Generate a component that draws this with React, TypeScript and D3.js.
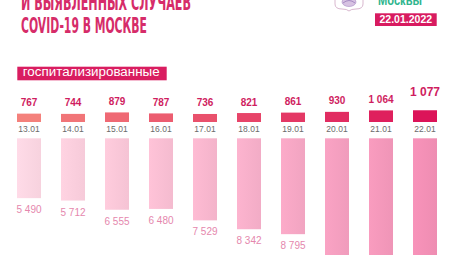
import React from "react";
import * as d3 from "d3";

const dates = ["13.01", "14.01", "15.01", "16.01", "17.01", "18.01", "19.01", "20.01", "21.01", "22.01"];
const hospitalized = [767, 744, 879, 787, 736, 821, 861, 930, 1064, 1077];
const identified = [5490, 5712, 6555, 6480, 7529, 8342, 8795, 11043, 13024, 15668];
const titleLines = ["И ВЫЯВЛЕННЫХ СЛУЧАЕВ", "COVID-19 В МОСКВЕ"];
const badgeLabel = "госпитализированные";
const dateBadge = "22.01.2022";
const brand = "Москвы";

const fmt = (v: number) => d3.format(",")(v).replace(/,/g, " ");

export default function App() {
  const W = 454, H = 255;
  const x = d3.scalePoint<string>().domain(dates).range([29, 425]);
  const h = d3.scaleLinear().domain([0, 10000]).range([0, 109]);
  const bw = 24;
  const hospBase = 122;
  const idTop = 138.3;
  const hospColor = d3.interpolateRgb("#f4817c", "#dc1459");
  const idColor = d3.interpolateRgb("#f7d2de", "#ee8db2");
  const n = dates.length;
  const sans = "'Liberation Sans', Arial, sans-serif";

  return (
    <svg width={W} height={H} style={{ position: "absolute", left: 0, top: 0, background: "#fff" }}>
      <defs>
        {dates.map((d, i) => {
          const c = idColor(i / (n - 1));
          return (
            <linearGradient key={d} id={`idg${i}`} x1="0" x2="1" y1="0" y2="0">
              <stop offset="0" stopColor={d3.color(c)!.brighter(0.12).formatHex()} />
              <stop offset="1" stopColor={c} />
            </linearGradient>
          );
        })}
      </defs>
      <rect width={W} height={H} fill="#fff" />

      {/* title */}
      <text x={21} y={10} fill="#d62c69" fontFamily="'DejaVu Sans Condensed', 'DejaVu Sans', sans-serif" fontWeight="bold" fontSize={20.5} textLength={170} lengthAdjust="spacingAndGlyphs">{titleLines[0]}</text>
      <text x={21} y={32.7} fill="#d62c69" fontFamily="'DejaVu Sans Condensed', 'DejaVu Sans', sans-serif" fontWeight="bold" fontSize={20.5} textLength={126} lengthAdjust="spacingAndGlyphs">{titleLines[1]}</text>

      {/* emblem */}
      <g>
        <path d="M335,-4 L363,-4 L363,4 Q363,9 356,9 Q351,9 349,11 Q347,9 342,9 Q335,9 335,4 Z" fill="#fff" stroke="#d9b8cf" strokeWidth={1} />
        <ellipse cx={349} cy={2} rx={7} ry={4.5} fill="#d7c2e2" stroke="#a98cc4" strokeWidth={0.6} />
        <path d="M343,3 Q349,-2 355,3" fill="none" stroke="#8f73b4" strokeWidth={0.7} />
      </g>
      <text x={378} y={4.5} fill="#2fb58d" fontFamily={sans} fontWeight="bold" fontSize={15} textLength={44} lengthAdjust="spacingAndGlyphs">{brand}</text>

      {/* date badge */}
      <rect x={375} y={13.3} width={61.7} height={12.7} fill="#d81b60" />
      <text x={405.8} y={23.3} textAnchor="middle" fill="#fff" fontFamily={sans} fontWeight="bold" fontSize={10.5}>{dateBadge}</text>

      {/* series badge */}
      <rect x={17.3} y={66.7} width={149.4} height={13.6} fill="#d91d60" />
      <text x={22.7} y={75.9} fill="#fff" fontFamily={sans} fontSize={12.5} textLength={137} lengthAdjust="spacingAndGlyphs">{badgeLabel}</text>

      {/* hospitalized bars */}
      {dates.map((d, i) => {
        const v = hospitalized[i];
        const cx = x(d)!;
        const top = hospBase - h(v);
        const last = i === n - 1;
        return (
          <g key={"h" + d}>
            <rect x={cx - bw / 2} y={top} width={bw} height={h(v)} fill={hospColor(i / (n - 1))} />
            <text x={cx} y={top - (last ? 14 : 7.5)} textAnchor="middle" fill="#cf1d60" fontFamily={sans} fontWeight="bold" fontSize={last ? 12 : 10}>{fmt(v)}</text>
            <text x={cx} y={132.3} textAnchor="middle" fill="#6b6b6b" fontFamily={sans} fontSize={8.5}>{d}</text>
          </g>
        );
      })}

      {/* identified bars */}
      {dates.map((d, i) => {
        const v = identified[i];
        const cx = x(d)!;
        const bottom = idTop + h(v);
        return (
          <g key={"i" + d}>
            <rect x={cx - bw / 2} y={idTop} width={bw} height={h(v)} fill={`url(#idg${i})`} />
            <text x={cx} y={bottom + 15} textAnchor="middle" fill="#e587ad" fontFamily={sans} fontSize={10}>{fmt(v)}</text>
          </g>
        );
      })}
    </svg>
  );
}
